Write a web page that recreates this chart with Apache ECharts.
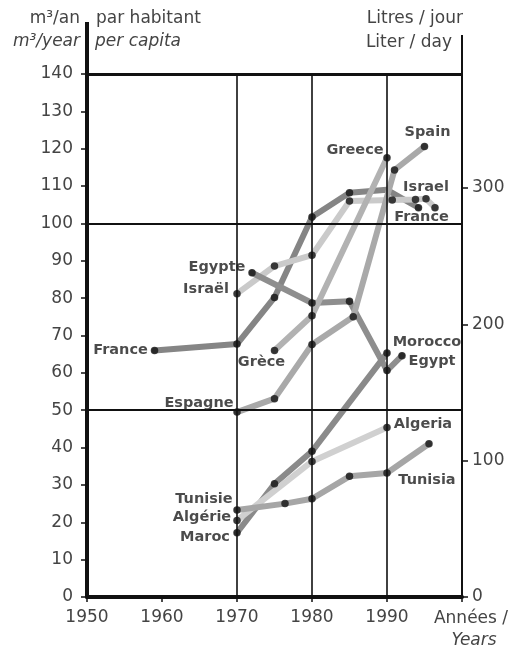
<!DOCTYPE html>
<html><head><meta charset="utf-8">
<script src="https://cdn.jsdelivr.net/npm/echarts@6/dist/echarts.min.js"></script>
<style>html,body{margin:0;padding:0;background:#fff}#c{width:514px;height:650px}</style>
</head><body><div id="c"></div>
<script>
// ---- data (m3 per capita per year) ----
const franceYears  = [1959, 1970, 1975, 1980, 1985, 1990, 1994.2];
const franceValues = [66, 67.7, 80.2, 101.7, 108.2, 109, 104.2];
const israelYears  = [1970, 1975, 1980, 1985, 1990.7, 1993.8, 1995.2, 1996.4];
const israelValues = [81.2, 88.6, 91.5, 106, 106.3, 106.4, 106.6, 104.2];
const egyptYears   = [1972, 1980, 1985, 1990, 1992];
const egyptValues  = [86.8, 78.7, 79.2, 60.6, 64.6];
const greeceYears  = [1975, 1980, 1990];
const greeceValues = [66, 75.3, 117.6];
const spainYears   = [1970, 1975, 1980, 1985.5, 1991, 1995];
const spainValues  = [49.5, 53.1, 67.6, 75, 114.3, 120.6];
const moroccoYears = [1970, 1975, 1980, 1990];
const moroccoValues= [17.2, 30.3, 39, 65.3];
const algeriaYears = [1970, 1980, 1990];
const algeriaValues= [20.5, 36.3, 45.4];
const tunisiaYears = [1970, 1976.4, 1980, 1985, 1990, 1995.6];
const tunisiaValues= [23.3, 25, 26.3, 32.3, 33.2, 41];

const yTicksLeft  = [0,10,20,30,40,50,60,70,80,90,100,110,120,130,140];
const yTicksRight = [0,100,200,300];          // litres / day
const xTickYears  = [1950,1960,1970,1980,1990];
const hGridValues = [50,100,140];
const vGridYears  = [1970,1980,1990];

// ---- styling (not data) ----
const seriesDefs = [
  {name:'France',  years:franceYears,  values:franceValues,  color:'#858585', noDot:[5],
   labels:[{i:0,text:'France',off:[-34,0]},{i:6,text:'France',off:[3,9]}]},
  {name:'Israel',  years:israelYears,  values:israelValues,  color:'#cacaca',
   labels:[{i:0,text:'Israël',off:[-31,-4]},{i:6,text:'Israel',off:[0,-12]}]},
  {name:'Egypt',   years:egyptYears,   values:egyptValues,   color:'#8e8e8e',
   labels:[{i:0,text:'Egypte',off:[-35,-6]},{i:4,text:'Egypt',off:[30,6]}]},
  {name:'Greece',  years:greeceYears,  values:greeceValues,  color:'#b2b2b2',
   labels:[{i:0,text:'Grèce',off:[-13,12]},{i:2,text:'Greece',off:[-32,-7]}]},
  {name:'Spain',   years:spainYears,   values:spainValues,   color:'#a9a9a9',
   labels:[{i:0,text:'Espagne',off:[-38,-9]},{i:5,text:'Spain',off:[3,-14]}]},
  {name:'Morocco', years:moroccoYears, values:moroccoValues, color:'#8a8a8a',
   labels:[{i:0,text:'Maroc',off:[-32,4]},{i:3,text:'Morocco',off:[40,-11]}]},
  {name:'Algeria', years:algeriaYears, values:algeriaValues, color:'#d0d0d0',
   labels:[{i:0,text:'Algérie',off:[-35,-3]},{i:2,text:'Algeria',off:[36,-3]}]},
  {name:'Tunisia', years:tunisiaYears, values:tunisiaValues, color:'#a6a6a6',
   labels:[{i:0,text:'Tunisie',off:[-33,-11]},{i:4,text:'Tunisia',off:[40,7]}]}
];

const FONT = 'DejaVu Sans';
const TXT = '#444';
const series = [];

// grid lines (drawn as markLines)
const gridLines = [];
hGridValues.forEach(v => gridLines.push([{coord:[1950,v], lineStyle:{width: v===140?3:2}},{coord:[2000,v]}]));
vGridYears.forEach(y => gridLines.push([{coord:[y,0], lineStyle:{width:1.6}},{coord:[y,140]}]));
series.push({
  type:'line', data:[[1950,0]], showSymbol:false, lineStyle:{opacity:0}, z:1, silent:true,
  markLine:{silent:true, symbol:'none', label:{show:false}, animation:false,
    lineStyle:{color:'#111', type:'solid', width:2}, data:gridLines}
});

seriesDefs.forEach(d => {
  const pts = d.years.map((y,k)=>[y, d.values[k]]);
  series.push({type:'line', name:d.name, data:pts, showSymbol:false, z:3,
    lineStyle:{color:d.color, width:6, cap:'round', join:'round'}, animation:false});
});
seriesDefs.forEach(d => {
  const pts = d.years.map((y,k)=>{
    const lab = d.labels.find(l=>l.i===k);
    const item = {value:[y, d.values[k]]};
    if (d.noDot && d.noDot.includes(k)) item.symbolSize = 0;
    if (lab) item.label = {show:true, position:'inside', offset:lab.off, formatter:lab.text,
      color:'#1e1e1e', fontFamily:FONT, fontWeight:'bold', fontSize:14.5, align:'center', verticalAlign:'middle'};
    return item;
  });
  series.push({type:'scatter', data:pts, symbolSize:7.5, itemStyle:{color:'#111'}, z:5, animation:false,
    label:{show:false}});
});

const chart = echarts.init(document.getElementById('c'));
chart.setOption({
  animation:false,
  backgroundColor:'#fff',
  grid:{left:87, right:52, top:74, bottom:53},
  xAxis:{type:'value', min:1950, max:2000, interval:10,
    axisLine:{show:true, lineStyle:{color:'#111', width:4}},
    axisTick:{show:true, length:5, lineStyle:{color:'#111', width:1.5}},
    splitLine:{show:false},
    axisLabel:{margin:12, color:TXT, fontFamily:FONT, fontSize:17,
      formatter:v => xTickYears.includes(v) ? String(v) : ''}},
  yAxis:[
    {type:'value', min:0, max:140, interval:10, position:'left',
      axisLine:{show:true, lineStyle:{color:'#111', width:4}},
      axisTick:{show:true, length:6, lineStyle:{color:'#111', width:1.5}, customValues:yTicksLeft},
      splitLine:{show:false},
      axisLabel:{margin:14, color:TXT, fontFamily:FONT, fontSize:17, customValues:yTicksLeft}},
    {type:'value', min:0, max:140*1000/365, position:'right',
      axisLine:{show:true, lineStyle:{color:'#111', width:2}},
      axisTick:{show:true, length:6, lineStyle:{color:'#111', width:1.5}, customValues:yTicksRight},
      splitLine:{show:false},
      axisLabel:{margin:10, color:TXT, fontFamily:FONT, fontSize:17, customValues:yTicksRight}}
  ],
  graphic:[
    {type:'line', shape:{x1:87,y1:22,x2:87,y2:76}, style:{stroke:'#111', lineWidth:4}, z:10},
    {type:'line', shape:{x1:462,y1:35,x2:462,y2:76}, style:{stroke:'#111', lineWidth:2}, z:10},
    {type:'text', style:{text:'m³/an', x:80, y:19, textAlign:'right', textVerticalAlign:'middle', font:'17px "DejaVu Sans"', fill:TXT}},
    {type:'text', style:{text:'m³/year', x:80, y:42, textAlign:'right', textVerticalAlign:'middle', font:'italic 17px "DejaVu Sans"', fill:TXT}},
    {type:'text', style:{text:'par habitant', x:96, y:19, textAlign:'left', textVerticalAlign:'middle', font:'17px "DejaVu Sans"', fill:TXT}},
    {type:'text', style:{text:'per capita', x:95, y:42, textAlign:'left', textVerticalAlign:'middle', font:'italic 17px "DejaVu Sans"', fill:TXT}},
    {type:'text', style:{text:'Litres / jour', x:463, y:19, textAlign:'right', textVerticalAlign:'middle', font:'17px "DejaVu Sans"', fill:TXT}},
    {type:'text', style:{text:'Liter / day', x:452, y:43, textAlign:'right', textVerticalAlign:'middle', font:'17px "DejaVu Sans"', fill:TXT}},
    {type:'text', style:{text:'Années /', x:471, y:619, textAlign:'center', textVerticalAlign:'middle', font:'17px "DejaVu Sans"', fill:TXT}},
    {type:'text', style:{text:'Years', x:474, y:641, textAlign:'center', textVerticalAlign:'middle', font:'italic 17px "DejaVu Sans"', fill:TXT}}
  ],
  series:series
});
</script></body></html>
